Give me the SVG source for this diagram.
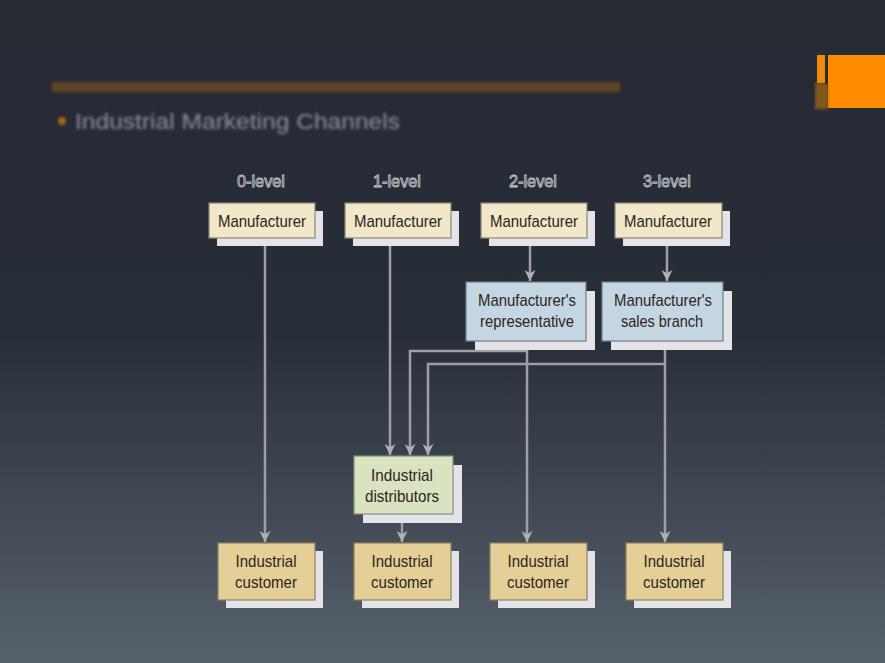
<svg xmlns="http://www.w3.org/2000/svg" width="885" height="663" viewBox="0 0 885 663">
<defs>
<linearGradient id="bg" x1="0" y1="0" x2="0" y2="1">
<stop offset="0" stop-color="#252a33"/>
<stop offset="0.5" stop-color="#282e38"/>
<stop offset="1" stop-color="#57616c"/>
</linearGradient>
<filter id="blur" x="-5%" y="-50%" width="110%" height="200%"><feGaussianBlur stdDeviation="1.6"/></filter>
<marker id="arr" viewBox="0 0 10 10" refX="10" refY="5" markerWidth="13" markerHeight="11" markerUnits="userSpaceOnUse" orient="auto">
<path d="M0,0 L10,5 L0,10 L3,5 Z" fill="#adb1b6"/>
</marker>
</defs>
<style>
.sh{fill:#e4e4e8}
.mf{fill:#f1e7c9;stroke:#8d8775;stroke-width:1.2}
.rp{fill:#c4d6e2;stroke:#6e7d88;stroke-width:1.2}
.ds{fill:#d9e3bf;stroke:#868f72;stroke-width:1.2}
.cu{fill:#e4d097;stroke:#8c805c;stroke-width:1.2}
.t{font-family:"Liberation Sans",Arial,sans-serif;font-size:17px;fill:#2b2621;text-anchor:middle}
.lv{font-family:"Liberation Sans",Arial,sans-serif;font-size:16px;fill:#30353e;stroke:#c3c6cb;stroke-width:0.8;text-anchor:middle}
.c{fill:none;stroke:#9c9fa4;stroke-width:2.5}
</style>
<rect x="0" y="0" width="885" height="663" fill="url(#bg)"/>
<g id="header">
<rect x="52" y="82" width="568" height="10" fill="#c9760f" opacity="0.35" filter="url(#blur)"/>
<circle cx="62" cy="121" r="4" fill="#c9750f" opacity="0.8" filter="url(#blur)"/>
<text x="75" y="129" font-family="'Liberation Sans',Arial,sans-serif" font-size="22" fill="#8c929c" textLength="325" lengthAdjust="spacingAndGlyphs" filter="url(#blur)">Industrial Marketing Channels</text>
<rect x="828" y="55" width="57" height="53" fill="#ff8c00"/>
<rect x="817" y="55" width="8" height="28" fill="#f08a0c"/>
<rect x="815" y="83" width="14" height="26" fill="#c2730f" opacity="0.6" filter="url(#blur)"/>
<rect x="825" y="52" width="3" height="32" fill="#2a2a2a"/>
</g>
<g id="level-labels">
<text class="lv" x="261" y="187" textLength="48" lengthAdjust="spacingAndGlyphs">0-level</text>
<text class="lv" x="397" y="187" textLength="48" lengthAdjust="spacingAndGlyphs">1-level</text>
<text class="lv" x="533" y="187" textLength="48" lengthAdjust="spacingAndGlyphs">2-level</text>
<text class="lv" x="667" y="187" textLength="48" lengthAdjust="spacingAndGlyphs">3-level</text>
</g>
<g id="connectors">
<line class="c" x1="265" y1="238" x2="265" y2="542" marker-end="url(#arr)"/>
<line class="c" x1="390" y1="238" x2="390" y2="455" marker-end="url(#arr)"/>
<line class="c" x1="530" y1="238" x2="530" y2="281" marker-end="url(#arr)"/>
<line class="c" x1="667" y1="238" x2="667" y2="281" marker-end="url(#arr)"/>
<line class="c" x1="527" y1="341" x2="527" y2="542" marker-end="url(#arr)"/>
<line class="c" x1="665" y1="341" x2="665" y2="542" marker-end="url(#arr)"/>
<polyline class="c" points="527,351 410,351 410,455" marker-end="url(#arr)"/>
<polyline class="c" points="665,364 428,364 428,455" marker-end="url(#arr)"/>
<line class="c" x1="402" y1="514" x2="402" y2="542" marker-end="url(#arr)"/>
</g>
<g id="mfr0"><rect class="sh" x="217" y="211" width="106" height="35"/><rect class="mf" x="209" y="203" width="106" height="35"/><text class="t" x="262" y="227" textLength="88" lengthAdjust="spacingAndGlyphs">Manufacturer</text></g>
<g id="mfr1"><rect class="sh" x="353" y="211" width="106" height="35"/><rect class="mf" x="345" y="203" width="106" height="35"/><text class="t" x="398" y="227" textLength="88" lengthAdjust="spacingAndGlyphs">Manufacturer</text></g>
<g id="mfr2"><rect class="sh" x="489" y="211" width="106" height="35"/><rect class="mf" x="481" y="203" width="106" height="35"/><text class="t" x="534" y="227" textLength="88" lengthAdjust="spacingAndGlyphs">Manufacturer</text></g>
<g id="mfr3"><rect class="sh" x="623" y="211" width="107" height="35"/><rect class="mf" x="615" y="203" width="107" height="35"/><text class="t" x="668" y="227" textLength="88" lengthAdjust="spacingAndGlyphs">Manufacturer</text></g>
<g id="rep"><rect class="sh" x="475" y="291" width="120" height="59"/><rect class="rp" x="466" y="282" width="120" height="59"/><text class="t" x="527" y="306" textLength="98" lengthAdjust="spacingAndGlyphs">Manufacturer's</text><text class="t" x="527" y="327" textLength="94" lengthAdjust="spacingAndGlyphs">representative</text></g>
<g id="branch"><rect class="sh" x="611" y="291" width="121" height="59"/><rect class="rp" x="602" y="282" width="121" height="59"/><text class="t" x="663" y="306" textLength="98" lengthAdjust="spacingAndGlyphs">Manufacturer's</text><text class="t" x="662" y="327" textLength="82" lengthAdjust="spacingAndGlyphs">sales branch</text></g>
<g id="distributors"><rect class="sh" x="363" y="465" width="99" height="58"/><rect class="ds" x="354" y="456" width="99" height="58"/><text class="t" x="402" y="481" textLength="62" lengthAdjust="spacingAndGlyphs">Industrial</text><text class="t" x="402" y="502" textLength="74" lengthAdjust="spacingAndGlyphs">distributors</text></g>
<g id="cust0"><rect class="sh" x="226" y="551" width="97" height="57"/><rect class="cu" x="218" y="543" width="97" height="57"/><text class="t" x="266" y="567" textLength="61" lengthAdjust="spacingAndGlyphs">Industrial</text><text class="t" x="266" y="588" textLength="62" lengthAdjust="spacingAndGlyphs">customer</text></g>
<g id="cust1"><rect class="sh" x="362" y="551" width="97" height="57"/><rect class="cu" x="354" y="543" width="97" height="57"/><text class="t" x="402" y="567" textLength="61" lengthAdjust="spacingAndGlyphs">Industrial</text><text class="t" x="402" y="588" textLength="62" lengthAdjust="spacingAndGlyphs">customer</text></g>
<g id="cust2"><rect class="sh" x="498" y="551" width="97" height="57"/><rect class="cu" x="490" y="543" width="97" height="57"/><text class="t" x="538" y="567" textLength="61" lengthAdjust="spacingAndGlyphs">Industrial</text><text class="t" x="538" y="588" textLength="62" lengthAdjust="spacingAndGlyphs">customer</text></g>
<g id="cust3"><rect class="sh" x="634" y="551" width="97" height="57"/><rect class="cu" x="626" y="543" width="97" height="57"/><text class="t" x="674" y="567" textLength="61" lengthAdjust="spacingAndGlyphs">Industrial</text><text class="t" x="674" y="588" textLength="62" lengthAdjust="spacingAndGlyphs">customer</text></g>
</svg>
